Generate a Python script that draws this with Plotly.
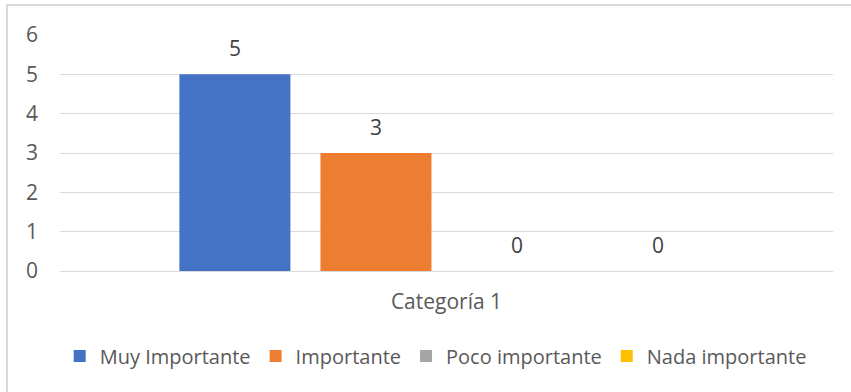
import plotly.graph_objects as go

categories = ["Categoría 1"]
series_names = ["Muy Importante", "Importante", "Poco importante", "Nada importante"]
series_values = [[5], [3], [0], [0]]
colors = ["#4472C4", "#ED7D31", "#A5A5A5", "#FFC000"]

FONT = "Open Sans"
TXT = "#595959"
FS = 21
PAD = "<span style='font-size:52px'>\u00a0</span>"

fig = go.Figure()
for name, vals, col in zip(series_names, series_values, colors):
    fig.add_trace(go.Bar(
        x=categories, y=vals, name=name,
        marker=dict(color=col, line=dict(width=0)),
        text=vals, texttemplate=PAD + "%{y}" + PAD,
        textposition="outside", cliponaxis=False, constraintext="none",
        textfont=dict(family=FONT, size=FS, color="#404040"),
    ))

fig.update_layout(
    width=851, height=392,
    margin=dict(l=60, r=18, t=35, b=121),
    paper_bgcolor="white", plot_bgcolor="white",
    barmode="group", bargap=0.27, bargroupgap=0.213,
    font=dict(family=FONT, size=FS, color=TXT),
    showlegend=True,
    legend=dict(orientation="h", xref="container", yref="container",
                x=0.512, xanchor="center", y=0.092, yanchor="middle",
                font=dict(family=FONT, size=20, color=TXT), itemwidth=30,
                traceorder="normal"),
    shapes=[dict(type="rect", xref="paper", yref="paper",
                 x0=-0.0686, x1=1.2, y0=-0.6, y1=1.127,
                 line=dict(color="#D9D9D9", width=2), layer="above")],
)
fig.update_yaxes(range=[0, 6], dtick=1, showgrid=True, gridcolor="#D9D9D9", gridwidth=1,
                 zeroline=False, showline=False, ticks="", ticklabelstandoff=21,
                 tickfont=dict(family=FONT, size=FS, color=TXT))
fig.update_xaxes(showline=True, linecolor="#D9D9D9", linewidth=1, ticks="",
                 ticklabelstandoff=12, tickfont=dict(family=FONT, size=FS, color=TXT))

fig.write_html("out.html")
